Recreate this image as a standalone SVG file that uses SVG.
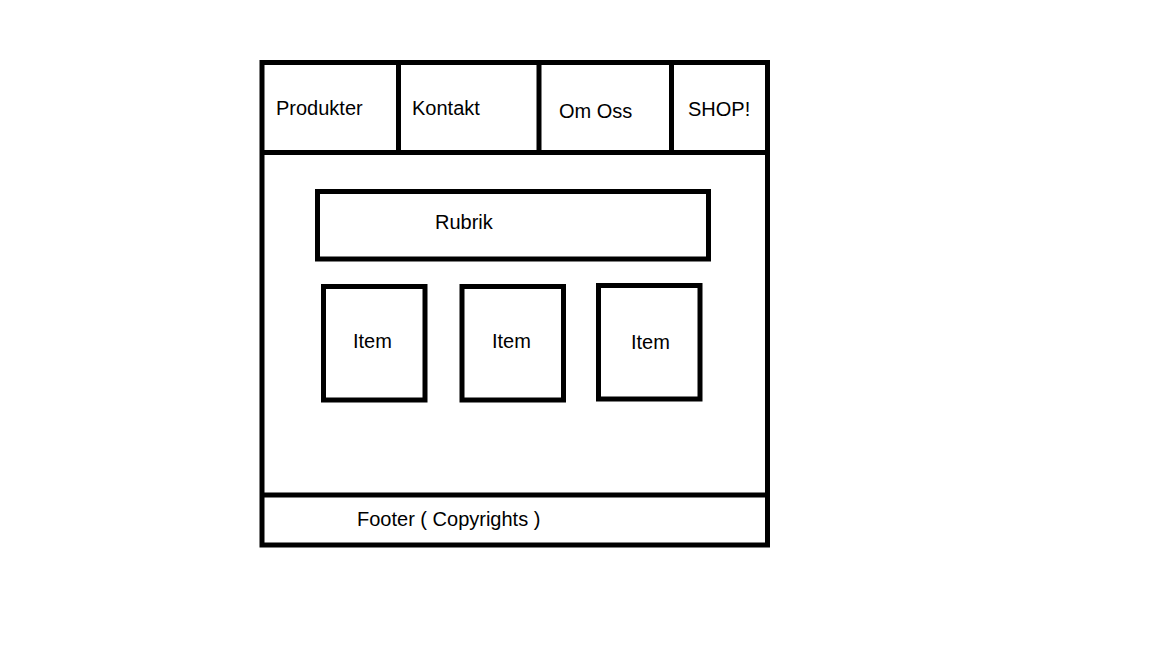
<svg xmlns="http://www.w3.org/2000/svg" width="1152" height="648" viewBox="0 0 1152 648">
<style>
.b{fill:none;stroke:#000;stroke-width:5}
.t{font-family:"Liberation Sans",Arial,sans-serif;font-size:20px;fill:#000}
</style>
<rect width="1152" height="648" fill="#fff"/>
<g id="frame">
<rect class="b" x="262" y="62.5" width="505.5" height="482.5"/>
<line class="b" x1="262" y1="152.5" x2="767.5" y2="152.5"/>
<line class="b" x1="262" y1="495" x2="767.5" y2="495"/>
</g>
<g id="nav-produkter"><line class="b" x1="398.5" y1="62.5" x2="398.5" y2="152.5"/><text class="t" x="276" y="115">Produkter</text></g>
<g id="nav-kontakt"><line class="b" x1="539" y1="62.5" x2="539" y2="152.5"/><text class="t" x="412" y="115">Kontakt</text></g>
<g id="nav-omoss"><line class="b" x1="671.5" y1="62.5" x2="671.5" y2="152.5"/><text class="t" x="559" y="118">Om Oss</text></g>
<g id="nav-shop"><text class="t" x="688" y="115.5">SHOP!</text></g>
<g id="rubrik"><rect class="b" x="317.5" y="191.5" width="391" height="67.5"/><text class="t" x="435" y="229">Rubrik</text></g>
<g id="item1"><rect class="b" x="323.5" y="286.5" width="101.5" height="113.5"/><text class="t" x="353" y="348">Item</text></g>
<g id="item2"><rect class="b" x="462" y="286.5" width="101.5" height="113.5"/><text class="t" x="492" y="348">Item</text></g>
<g id="item3"><rect class="b" x="598.5" y="285.5" width="101.5" height="113.5"/><text class="t" x="631" y="349">Item</text></g>
<g id="footer"><text class="t" x="357" y="526">Footer ( Copyrights )</text></g>
<g id="connectors"/>
</svg>
